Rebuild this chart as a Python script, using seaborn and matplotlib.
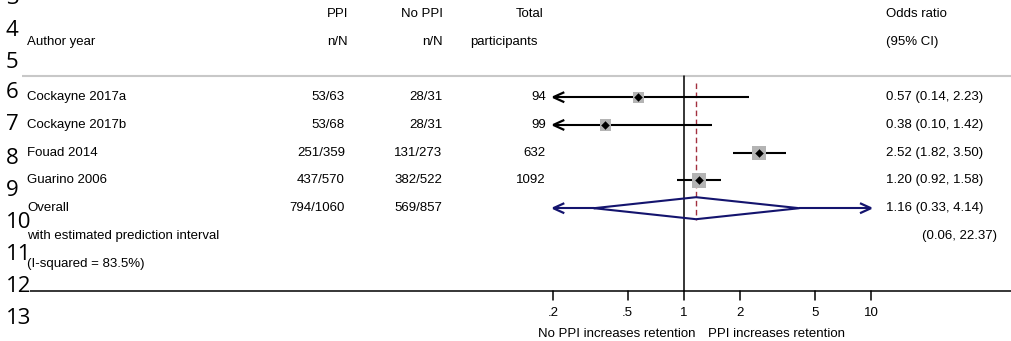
import numpy as np
import pandas as pd
import matplotlib
matplotlib.use("Agg")
import matplotlib.pyplot as plt
import seaborn as sns

# ---------------- data ----------------
studies = ["Cockayne 2017a", "Cockayne 2017b", "Fouad 2014", "Guarino 2006"]
ppi = ["53/63", "53/68", "251/359", "437/570"]
no_ppi = ["28/31", "28/31", "131/273", "382/522"]
total = ["94", "99", "632", "1092"]
odds = [0.57, 0.38, 2.52, 1.20]
lower = [0.14, 0.10, 1.82, 0.92]
upper = [2.23, 1.42, 3.50, 1.58]
weights = [18.0, 19.0, 31.0, 32.0]
or_text = ["0.57 (0.14, 2.23)", "0.38 (0.10, 1.42)", "2.52 (1.82, 3.50)", "1.20 (0.92, 1.58)"]

overall_label = "Overall"
overall_ppi = "794/1060"
overall_noppi = "569/857"
overall_or = 1.16
overall_lo = 0.33
overall_hi = 4.14
pred_lo = 0.06
pred_hi = 22.37
overall_text = "1.16 (0.33, 4.14)"
pred_text = "(0.06, 22.37)"
pred_label = "with estimated prediction interval"
isq_label = "(I-squared = 83.5%)"

tick_vals = [0.2, 0.5, 1, 2, 5, 10]
tick_labels = [".2", ".5", "1", "2", "5", "10"]
xmin_plot, xmax_plot = 0.2, 10
left_caption = "No PPI increases retention"
right_caption = "PPI increases retention"
line_numbers = ["3", "4", "5", "6", "7", "8", "9", "10", "11", "12", "13"]

# ---------------- figure ----------------
sns.set_theme(style="white")
plt.rcParams["font.family"] = ["Liberation Sans", "DejaVu Sans"]
plt.rcParams["text.color"] = "black"

W, H = 1012, 341
fig = plt.figure(figsize=(W / 100, H / 100), dpi=100)
fig.patch.set_facecolor("white")

# pixel overlay axes
tx = fig.add_axes([0, 0, 1, 1])
tx.set_xlim(0, W)
tx.set_ylim(H, 0)
tx.axis("off")

# forest axes (log x mapped so that 1 -> 684px, 10 -> 871px)
x_one, per_dec = 684.0, 187.0
ax = fig.add_axes([0, 0, 1, 1], facecolor="none")
ax.set_xscale("log")
ax.set_xlim(10 ** (-x_one / per_dec), 10 ** ((W - x_one) / per_dec))
ax.set_ylim(H, 0)
ax.axis("off")

def px(v):
    return x_one + per_dec * np.log10(v)

row0, dy = 97.2, 27.75
rows = [row0 + dy * i for i in range(len(studies))]
y_over = row0 + dy * len(studies)
y_pred = y_over + dy
y_isq = y_over + 2 * dy
y_h1 = row0 - 3 * dy + 0.3
y_h2 = row0 - 2 * dy

fs = 9.5
# header
tx.text(348, y_h1, "PPI", ha="right", va="center", fontsize=fs)
tx.text(443, y_h1, "No PPI", ha="right", va="center", fontsize=fs)
tx.text(544, y_h1, "Total", ha="right", va="center", fontsize=fs)
tx.text(886, y_h1, "Odds ratio", ha="left", va="center", fontsize=fs)
tx.text(27, y_h2, "Author year", ha="left", va="center", fontsize=fs)
tx.text(348, y_h2, "n/N", ha="right", va="center", fontsize=fs)
tx.text(443, y_h2, "n/N", ha="right", va="center", fontsize=fs)
tx.text(538, y_h2, "participants", ha="right", va="center", fontsize=fs)
tx.text(886, y_h2, "(95% CI)", ha="left", va="center", fontsize=fs)

# separator lines
tx.plot([22, W], [76, 76], color="#c8c8c8", lw=1.5, solid_capstyle="butt")
tx.plot([30, W], [291, 291], color="black", lw=1.1, solid_capstyle="butt")

# study rows
for i, y in enumerate(rows):
    tx.text(27, y, studies[i], ha="left", va="center", fontsize=fs)
    tx.text(345, y, ppi[i], ha="right", va="center", fontsize=fs)
    tx.text(442.5, y, no_ppi[i], ha="right", va="center", fontsize=fs)
    tx.text(546, y, total[i], ha="right", va="center", fontsize=fs)
    tx.text(886, y, or_text[i], ha="left", va="center", fontsize=fs)

tx.text(27, y_over, overall_label, ha="left", va="center", fontsize=fs)
tx.text(345, y_over, overall_ppi, ha="right", va="center", fontsize=fs)
tx.text(442.5, y_over, overall_noppi, ha="right", va="center", fontsize=fs)
tx.text(886, y_over, overall_text, ha="left", va="center", fontsize=fs)
tx.text(27, y_pred, pred_label, ha="left", va="center", fontsize=fs)
tx.text(922, y_pred, pred_text, ha="left", va="center", fontsize=fs)
tx.text(27, y_isq, isq_label, ha="left", va="center", fontsize=fs)

# null line and overall dashed line
ax.plot([1, 1], [76, 291], color="black", lw=1.1)
ax.plot([overall_or, overall_or], [83, 220], color="#a3303f", lw=1.0,
        dashes=(4, 2.5))

# CI lines with arrows when clipped
arrow_len, arrow_half = 11, 5
def arrow_head(xtip, y, direction, color, lw):
    # direction -1 points left, +1 right
    tx.plot([xtip - direction * arrow_len, xtip, xtip - direction * arrow_len],
            [y - arrow_half, y, y + arrow_half], color=color, lw=lw,
            solid_joinstyle="miter", solid_capstyle="butt")

for i, y in enumerate(rows):
    lo = max(lower[i], xmin_plot)
    hi = min(upper[i], xmax_plot)
    ax.plot([lo, hi], [y, y], color="black", lw=1.5, solid_capstyle="butt")
    if lower[i] < xmin_plot:
        arrow_head(px(xmin_plot), y, -1, "black", 1.6)
    if upper[i] > xmax_plot:
        arrow_head(px(xmax_plot), y, 1, "black", 1.6)

df = pd.DataFrame({"odds": odds, "y": rows, "w": weights})
side_px = 14.5 * np.sqrt(np.array(weights) / max(weights))
sizes = (side_px / 1.389) ** 2
sns.scatterplot(data=df, x="odds", y="y", ax=ax, marker="s", s=sizes,
                color="#b4b4b4", edgecolor="none", linewidth=0, legend=False, zorder=3)
sns.scatterplot(data=df, x="odds", y="y", ax=ax, marker="D", s=16,
                color="black", edgecolor="black", linewidth=0.3, legend=False, zorder=4)

# overall diamond and prediction interval
navy = "#14146e"
dh = 11
ax.plot([overall_lo, overall_or, overall_hi, overall_or, overall_lo],
        [y_over, y_over - dh, y_over, y_over + dh, y_over], color=navy, lw=1.5,
        solid_joinstyle="miter")
p_lo = max(pred_lo, xmin_plot)
p_hi = min(pred_hi, xmax_plot)
ax.plot([p_lo, overall_lo], [y_over, y_over], color=navy, lw=1.5, solid_capstyle="butt")
ax.plot([overall_hi, p_hi], [y_over, y_over], color=navy, lw=1.5, solid_capstyle="butt")
if pred_lo < xmin_plot:
    arrow_head(px(xmin_plot), y_over, -1, navy, 1.6)
if pred_hi > xmax_plot:
    arrow_head(px(xmax_plot), y_over, 1, navy, 1.6)

# x axis ticks and labels
for v, lab in zip(tick_vals, tick_labels):
    ax.plot([v, v], [291, 300], color="black", lw=1.1)
    ax.text(v, 313, lab, ha="center", va="center", fontsize=fs)
tx.text(696, 334, left_caption, ha="right", va="center", fontsize=fs)
tx.text(708, 334, right_caption, ha="left", va="center", fontsize=fs)

# line numbers at the left margin
num_y = [-2, 30, 62, 93, 124, 159, 190, 223, 254, 286, 318]
for lab, y in zip(line_numbers, num_y):
    tx.text(6, y, lab, ha="left", va="center", fontsize=16,
            family=["Open Sans", "DejaVu Sans"])

fig.savefig("out.png", dpi=100)
